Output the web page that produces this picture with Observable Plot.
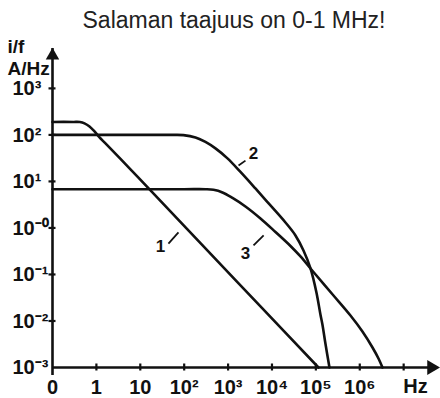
<!DOCTYPE html>
<html><head><meta charset="utf-8">
<script src="https://cdn.jsdelivr.net/npm/d3@7"></script>
<script src="https://cdn.jsdelivr.net/npm/@observablehq/plot@0.6"></script>
<style>html,body{margin:0;padding:0;background:#fff}</style>
</head><body><div id="chart"></div>
<script>
// Curve 1
const curve1F = [0.1, 0.3, 0.42, 0.536, 0.697, 0.906, 1.178, 1.61, 5.98, 17.1, 235, 5470, 1.146e5];
const curve1V = [190, 190, 189, 177, 152, 119, 88.3, 65.6, 18.2, 6.4, 0.471, 0.0206, 0.001];
// Curve 2
const curve2F = [0.1, 10, 50, 96, 181, 305, 516, 969, 1915, 4200, 9240, 20300, 34300, 52200, 75400, 103000, 127000, 141000, 165000, 204000];
const curve2V = [100, 100, 100, 99, 88.3, 70.6, 51.3, 31.3, 16.0, 7.06, 3.05, 1.31, 0.69, 0.328, 0.135, 0.041, 0.0138, 0.0084, 0.00328, 0.001];
// Curve 3
const curve3F = [0.1, 100, 305, 465, 745, 1259, 2487, 5470, 12000, 26400, 44600, 88100, 252000, 614000, 1.15e6, 1.95e6, 2.67e6, 3.29e6];
const curve3V = [6.8, 6.8, 6.8, 6.6, 5.8, 4.42, 2.9, 1.6, 0.82, 0.41, 0.244, 0.113, 0.0353, 0.0131, 0.00594, 0.00269, 0.00156, 0.001];

// Curve number labels and their leader strokes
const labelText = ["1", "2", "3"];
const labelF = [29, 3800, 2490];
const labelV = [0.39, 40, 0.28];
const leaderF1 = [43.8, 1730, 3800];
const leaderV1 = [0.46, 22, 0.42];
const leaderF2 = [74, 2490, 6460];
const leaderV2 = [0.8, 28, 0.69];

// Axes
const xTickValues = [0.1, 1, 10, 100, 1e3, 1e4, 1e5, 1e6];
const xTickLabels = ["0", "1", "10", "10²", "10³", "10⁴", "10⁵", "10⁶"];
const xTickMarks = [1, 10, 100, 1e3, 1e4, 1e5, 1e6, 1e7];
const yTickValues = [1e3, 1e2, 1e1, 1, 1e-1, 1e-2, 1e-3];
const yTickLabels = ["10³", "10²", "10¹", "10⁻⁰", "10⁻¹", "10⁻²", "10⁻³"];
const yTickMarks = [1e3, 1e2, 1e1, 1, 1e-1, 1e-2];
const xMin = 0.1, xMax = 5.9e7, yMin = 0.001, yMax = 7200;
const titleText = "Salaman taajuus on 0-1 MHz!";
const yLabel1 = "i/f";
const yLabel2 = "A/Hz";
const xUnit = "Hz";

const series = [
  ...curve1F.map((f, i) => ({f, v: curve1V[i], s: "1"})),
  ...curve2F.map((f, i) => ({f, v: curve2V[i], s: "2"})),
  ...curve3F.map((f, i) => ({f, v: curve3V[i], s: "3"}))
];
const labels = labelText.map((t, i) => ({t, f: labelF[i], v: labelV[i],
  f1: leaderF1[i], v1: leaderV1[i], f2: leaderF2[i], v2: leaderV2[i]}));
const xt = xTickValues.map((x, i) => ({x, t: xTickLabels[i]}));
const yt = yTickValues.map((y, i) => ({y, t: yTickLabels[i]}));

const ink = "#111";
const sans = "'Liberation Sans',Arial,Helvetica,sans-serif";

const chart = Plot.plot({
  width: 440, height: 398,
  marginLeft: 52, marginRight: 3, marginTop: 48, marginBottom: 31,
  x: {type: "log", domain: [xMin, xMax], axis: null},
  y: {type: "log", domain: [yMin, yMax], axis: null},
  style: {background: "#fff", color: ink, fontFamily: sans},
  marks: [
    // axis lines with arrowheads
    Plot.ruleY([yMin], {x1: xMin, x2: xMax, stroke: ink, strokeWidth: 2.6, insetRight: 8}),
    Plot.ruleX([xMin], {y1: yMin, y2: yMax, stroke: ink, strokeWidth: 2.6, insetTop: 8}),
    Plot.dot([xMax], {x: d => d, y: yMin, symbol: "triangle", r: 5.5, rotate: 90, fill: ink, stroke: null, dx: -6}),
    Plot.dot([yMax], {x: xMin, y: d => d, symbol: "triangle", r: 5, fill: ink, stroke: null, dy: 7}),
    // tick marks
    Plot.ruleX(xTickMarks, {x: d => d, y1: yMin, y2: yMin, insetTop: -3.5, insetBottom: -3.5, stroke: ink, strokeWidth: 2.2}),
    Plot.ruleY(yTickMarks, {y: d => d, x1: xMin, x2: xMin, insetLeft: -3.5, insetRight: -3.5, stroke: ink, strokeWidth: 2.2}),
    // tick labels
    Plot.text(xt, {x: "x", y: yMin, text: "t", dy: 20, fontSize: 20, fontWeight: "bold", fill: ink, ariaLabel: "narrow"}),
    Plot.text(yt, {x: xMin, y: "y", text: "t", dx: -40, dy: 0.5, textAnchor: "start", fontSize: 20, fontWeight: "bold", fill: ink, ariaLabel: "narrow"}),
    Plot.text([xUnit], {x: xMax, y: yMin, text: d => d, dx: -22, dy: 19, fontSize: 20, fontWeight: "bold", fill: ink, ariaLabel: "narrow"}),
    Plot.text([yLabel1], {frameAnchor: "top-left", text: d => d, dx: -45, dy: -9, textAnchor: "start", lineAnchor: "top", fontSize: 19, fontWeight: "bold", fill: ink, ariaLabel: "narrow2"}),
    Plot.text([yLabel2], {frameAnchor: "top-left", text: d => d, dx: -45, dy: 13, textAnchor: "start", lineAnchor: "top", fontSize: 19, fontWeight: "bold", fill: ink, ariaLabel: "narrow2"}),
    // curves
    Plot.line(series, {x: "f", y: "v", z: "s", curve: "catmull-rom", stroke: ink, strokeWidth: 2.6}),
    // curve labels
    Plot.link(labels, {x1: "f1", y1: "v1", x2: "f2", y2: "v2", stroke: ink, strokeWidth: 1.8}),
    Plot.text(labels, {x: "f", y: "v", text: "t", fontSize: 17, fontWeight: "bold", fill: ink, ariaLabel: "narrow"}),
    // title
    Plot.text([titleText], {frameAnchor: "top-left", text: d => d, dx: 30, dy: -21, textAnchor: "start", lineAnchor: "bottom",
      fontSize: 23, fill: "#222", ariaLabel: "title"})
  ]
});
chart.querySelectorAll("g[aria-label='narrow'] text").forEach(t => {
  t.setAttribute("transform", (t.getAttribute("transform") || "") + " scale(0.8,1)");
});
chart.querySelectorAll("g[aria-label='narrow2'] text").forEach(t => {
  t.setAttribute("transform", (t.getAttribute("transform") || "") + " scale(0.94,1.05)");
});
chart.querySelectorAll("g[aria-label='title'] text").forEach(t => {
  t.setAttribute("textLength", "346");
  t.setAttribute("lengthAdjust", "spacingAndGlyphs");
});
document.getElementById("chart").appendChild(chart);
</script>
</body></html>
